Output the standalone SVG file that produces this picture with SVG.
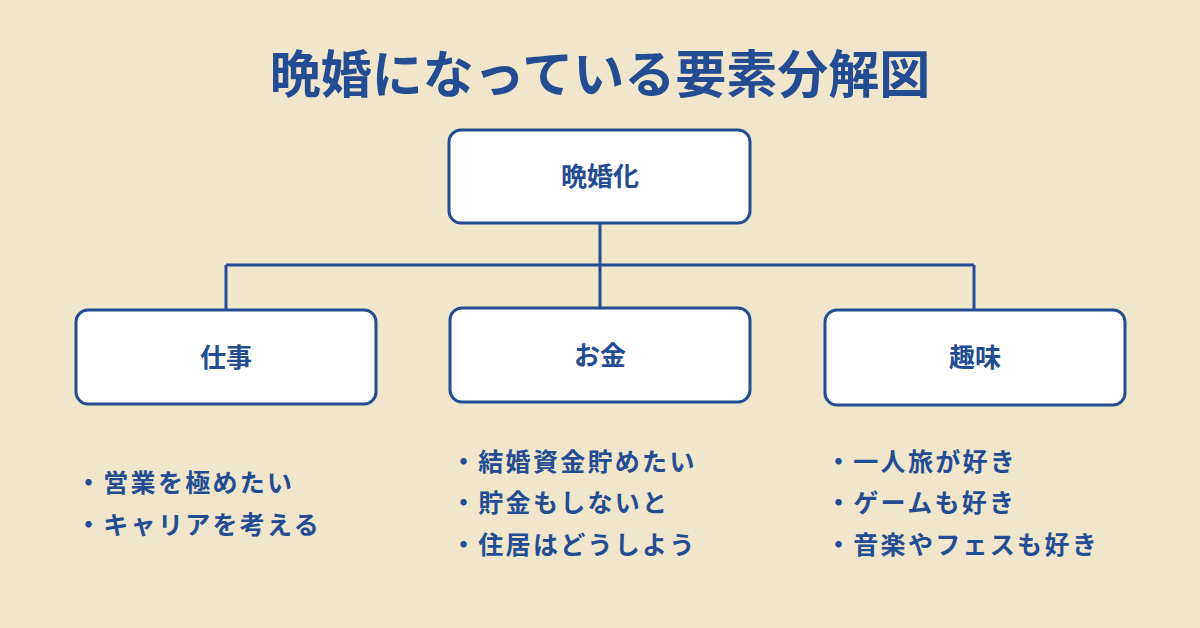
<svg xmlns="http://www.w3.org/2000/svg" width="1200" height="628" viewBox="0 0 1200 628">
<style>
.box{fill:#fff;stroke:#234c92;stroke-width:3}
.t{font-family:"Noto Sans CJK JP",sans-serif;font-weight:700;fill:#234c92}
.n{font-size:26px;text-anchor:middle}
.l{font-size:25px;letter-spacing:2.3px}
.c{stroke:#234c92;stroke-width:3;fill:none}
</style>
<rect width="1200" height="628" fill="#efe6cc"/>
<text class="t" x="600" y="93" font-size="51" text-anchor="middle">晩婚になっている要素分解図</text>
<g id="connectors">
<path class="c" d="M600 223V308M226 265H974M226 265V310M974 265V310"/>
</g>
<g id="root"><rect class="box" x="449" y="130" width="301" height="93" rx="12"/><text class="t n" x="600" y="186">晩婚化</text></g>
<g id="work"><rect class="box" x="76" y="310" width="300" height="94" rx="12"/><text class="t n" x="226" y="367">仕事</text></g>
<g id="money"><rect class="box" x="450" y="308" width="300" height="94" rx="12"/><text class="t n" x="600" y="365">お金</text></g>
<g id="hobby"><rect class="box" x="825" y="310" width="300" height="95" rx="12"/><text class="t n" x="975" y="367">趣味</text></g>
<g id="work-list" class="t l">
<text x="76" y="492">・営業を極めたい</text>
<text x="76" y="534">・キャリアを考える</text>
</g>
<g id="money-list" class="t l">
<text x="451" y="471">・結婚資金貯めたい</text>
<text x="451" y="512">・貯金もしないと</text>
<text x="451" y="554">・住居はどうしよう</text>
</g>
<g id="hobby-list" class="t l">
<text x="826" y="471">・一人旅が好き</text>
<text x="826" y="512">・ゲームも好き</text>
<text x="826" y="554">・音楽やフェスも好き</text>
</g>
</svg>
